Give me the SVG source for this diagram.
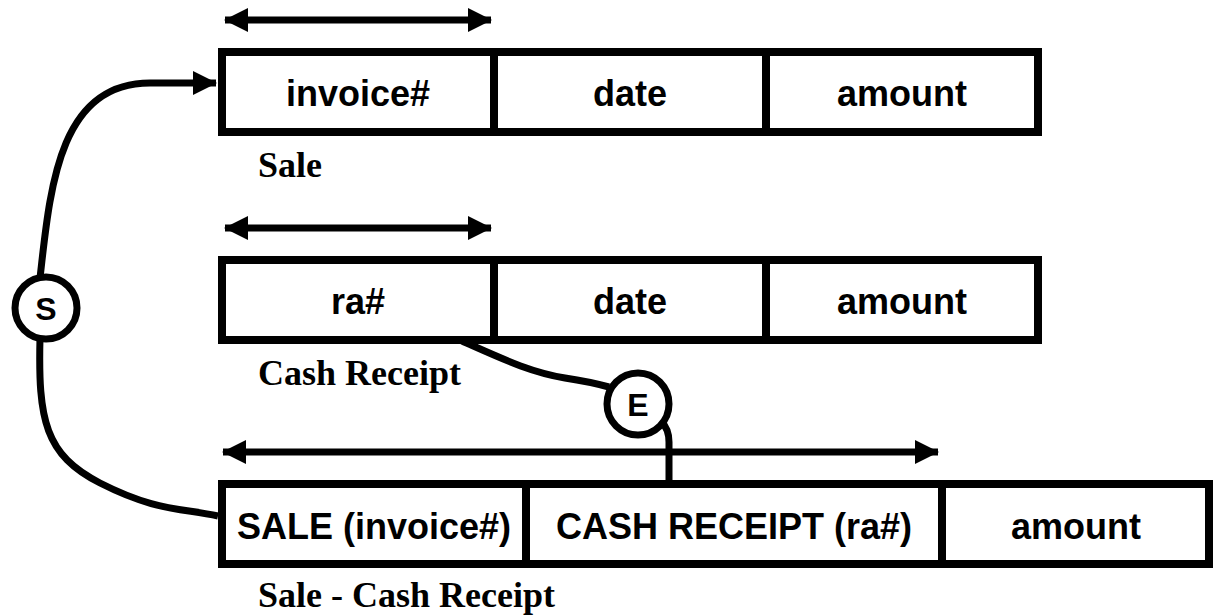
<svg xmlns="http://www.w3.org/2000/svg" width="1214" height="616" viewBox="0 0 1214 616">
<style>
.cell{fill:#fff;stroke:#000;stroke-width:8}
.div{stroke:#000;stroke-width:8}
.ft{font-family:"Liberation Sans",Arial,sans-serif;font-weight:bold;font-size:36px;fill:#000;text-anchor:middle}
.lbl{font-family:"Liberation Serif","Times New Roman",serif;font-weight:bold;font-size:36px;fill:#000}
.ln{fill:none;stroke:#000;stroke-width:7}
.circ{fill:#fff;stroke:#000;stroke-width:7}
.ct{font-family:"Liberation Sans",Arial,sans-serif;font-weight:bold;font-size:32px;fill:#000;text-anchor:middle}
</style>
<defs>
<marker id="ah" markerUnits="userSpaceOnUse" markerWidth="24" markerHeight="24" viewBox="0 0 24 24" refX="23" refY="12" orient="auto-start-reverse">
<path d="M0,0 L24,12 L0,24 Z" fill="#000"/>
</marker>
</defs>
<rect width="1214" height="616" fill="#fff"/>
<g id="sale">
<rect class="cell" x="222" y="52" width="816" height="80"/>
<line class="div" x1="494" y1="52" x2="494" y2="132"/>
<line class="div" x1="766" y1="52" x2="766" y2="132"/>
<text class="ft" x="358" y="106">invoice#</text>
<text class="ft" x="630" y="106">date</text>
<text class="ft" x="902" y="106">amount</text>
<text class="lbl" x="258" y="177">Sale</text>
</g>
<g id="cash-receipt">
<rect class="cell" x="222" y="260" width="816" height="80"/>
<line class="div" x1="494" y1="260" x2="494" y2="340"/>
<line class="div" x1="766" y1="260" x2="766" y2="340"/>
<text class="ft" x="358" y="314">ra#</text>
<text class="ft" x="630" y="314">date</text>
<text class="ft" x="902" y="314">amount</text>
<text class="lbl" x="258" y="385">Cash Receipt</text>
</g>
<g id="sale-cash-receipt">
<rect class="cell" x="222" y="484" width="987" height="80"/>
<line class="div" x1="526" y1="484" x2="526" y2="564"/>
<line class="div" x1="942" y1="484" x2="942" y2="564"/>
<text class="ft" x="374" y="539">SALE (invoice#)</text>
<text class="ft" x="734" y="539">CASH RECEIPT (ra#)</text>
<text class="ft" x="1076" y="539">amount</text>
<text class="lbl" x="258" y="607">Sale - Cash Receipt</text>
</g>
<g id="connectors">
<line class="ln" x1="225" y1="20" x2="491" y2="20" marker-start="url(#ah)" marker-end="url(#ah)"/>
<line class="ln" x1="225" y1="228" x2="491" y2="228" marker-start="url(#ah)" marker-end="url(#ah)"/>
<line class="ln" x1="223" y1="452" x2="938" y2="452" marker-start="url(#ah)" marker-end="url(#ah)"/>
<path class="ln" d="M40,278 C50,190 58,83 150,83 L216,83" marker-end="url(#ah)"/>
<path class="ln" d="M40,338 C38,420 45,455 100,483 S180,508 218,516"/>
<path class="ln" d="M462,341 C505,360 530,372 565,378 C585,381 598,384 609,387"/>
<path class="ln" d="M669,484 V442 C669,432 666,426 661,421"/>
</g>
<g id="s-node">
<circle class="circ" cx="46" cy="308" r="31"/>
<text class="ct" x="46" y="320">S</text>
</g>
<g id="e-node">
<circle class="circ" cx="638" cy="404" r="31"/>
<text class="ct" x="638" y="416">E</text>
</g>
</svg>
